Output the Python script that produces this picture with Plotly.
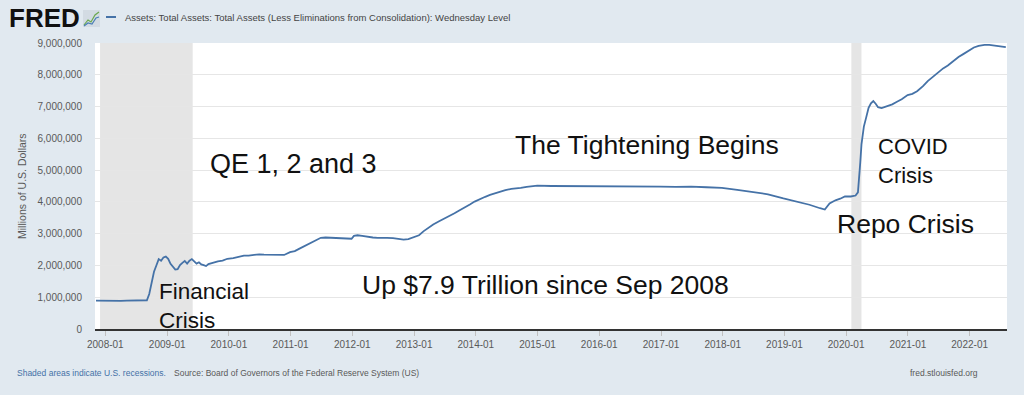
import plotly.graph_objects as go

# ---------------- data (millions of U.S. dollars, Wednesday level) ----------------
dates = [
    "2007-11-07", "2007-12-05", "2008-01-02", "2008-02-06", "2008-03-05", "2008-04-02",
    "2008-05-07", "2008-06-04", "2008-07-02", "2008-08-06", "2008-09-03", "2008-09-17",
    "2008-10-01", "2008-10-15", "2008-10-29", "2008-11-12", "2008-11-26", "2008-12-10",
    "2008-12-24", "2009-01-07", "2009-01-21", "2009-02-04", "2009-02-18", "2009-03-04",
    "2009-03-18", "2009-04-01", "2009-04-15", "2009-04-29", "2009-05-13", "2009-05-27",
    "2009-06-10", "2009-06-24", "2009-07-08", "2009-07-22", "2009-08-05", "2009-08-19",
    "2009-09-02", "2009-09-30", "2009-10-28", "2009-11-25", "2009-12-23", "2010-01-27",
    "2010-02-24", "2010-03-31", "2010-04-28", "2010-05-26", "2010-06-30", "2010-07-28",
    "2010-08-25", "2010-09-29", "2010-10-27", "2010-11-24", "2010-12-29", "2011-01-26",
    "2011-02-23", "2011-03-30", "2011-04-27", "2011-05-25", "2011-06-29", "2011-07-27",
    "2011-08-31", "2011-09-28", "2011-10-26", "2011-11-30", "2011-12-28", "2012-01-11",
    "2012-02-01", "2012-02-29", "2012-03-28", "2012-05-02", "2012-05-30", "2012-06-27",
    "2012-07-25", "2012-08-29", "2012-09-26", "2012-10-31", "2012-11-28", "2012-12-26",
    "2013-01-30", "2013-02-27", "2013-03-27", "2013-04-24", "2013-05-29", "2013-06-26",
    "2013-07-31", "2013-08-28", "2013-09-25", "2013-10-30", "2013-11-27", "2013-12-25",
    "2014-01-29", "2014-02-26", "2014-03-26", "2014-04-30", "2014-05-28", "2014-06-25",
    "2014-07-30", "2014-08-27", "2014-09-24", "2014-10-29", "2014-12-31", "2015-03-25",
    "2015-06-24", "2015-09-30", "2015-12-30", "2016-03-30", "2016-06-29", "2016-09-28",
    "2016-12-28", "2017-03-29", "2017-06-28", "2017-09-27", "2017-12-27", "2018-03-28",
    "2018-06-27", "2018-09-26", "2018-12-26", "2019-03-27", "2019-05-29", "2019-07-31",
    "2019-08-28", "2019-09-25", "2019-10-30", "2019-11-27", "2019-12-25", "2020-01-29",
    "2020-02-26", "2020-03-11", "2020-03-18", "2020-03-25", "2020-04-01", "2020-04-15",
    "2020-04-29", "2020-05-13", "2020-05-27", "2020-06-10", "2020-06-24", "2020-07-08",
    "2020-07-29", "2020-08-26", "2020-09-30", "2020-10-28", "2020-11-25", "2020-12-30",
    "2021-01-27", "2021-02-24", "2021-03-31", "2021-04-28", "2021-05-26", "2021-06-30",
    "2021-07-28", "2021-08-25", "2021-09-29", "2021-10-27", "2021-11-24", "2021-12-29",
    "2022-01-26", "2022-02-23", "2022-03-30", "2022-04-27", "2022-05-25", "2022-06-29",
    "2022-07-27", "2022-08-03",
]
total_assets = [
    895000, 890000, 905000, 888000, 893000, 887000,
    890000, 893000, 895000, 898000, 905000, 1100000,
    1500000, 1800000, 2000000, 2200000, 2150000, 2250000,
    2280000, 2210000, 2050000, 1950000, 1870000, 1880000,
    2010000, 2080000, 2140000, 2060000, 2150000, 2200000,
    2130000, 2060000, 2100000, 2030000, 2010000, 1980000,
    2040000, 2090000, 2130000, 2150000, 2210000, 2230000,
    2260000, 2310000, 2310000, 2330000, 2350000, 2340000,
    2340000, 2330000, 2320000, 2330000, 2420000, 2450000,
    2530000, 2620000, 2700000, 2780000, 2870000, 2880000,
    2870000, 2860000, 2860000, 2850000, 2840000, 2930000,
    2950000, 2930000, 2900000, 2880000, 2870000, 2880000,
    2870000, 2860000, 2840000, 2810000, 2830000, 2880000,
    2950000, 3080000, 3200000, 3290000, 3390000, 3460000,
    3570000, 3640000, 3730000, 3850000, 3920000, 4010000,
    4080000, 4160000, 4220000, 4280000, 4330000, 4370000,
    4410000, 4420000, 4440000, 4470000, 4510000, 4500000,
    4500000, 4490000, 4490000, 4480000, 4490000, 4480000,
    4480000, 4470000, 4480000, 4460000, 4440000, 4380000,
    4310000, 4240000, 4110000, 3990000, 3910000, 3800000,
    3760000, 3950000, 4050000, 4100000, 4170000, 4170000,
    4200000, 4300000, 4670000, 5250000, 5810000, 6370000,
    6660000, 6960000, 7100000, 7170000, 7090000, 6980000,
    6950000, 7000000, 7070000, 7150000, 7230000, 7360000,
    7400000, 7480000, 7640000, 7800000, 7930000, 8100000,
    8200000, 8290000, 8450000, 8560000, 8650000, 8760000,
    8860000, 8910000, 8940000, 8940000, 8920000, 8900000,
    8880000, 8870000,
]
recession_starts = ["2007-12-01", "2020-02-01"]
recession_ends = ["2009-06-01", "2020-04-01"]

series_name = "Assets: Total Assets: Total Assets (Less Eliminations from Consolidation): Wednesday Level"
y_ticks = [0, 1000000, 2000000, 3000000, 4000000, 5000000, 6000000, 7000000, 8000000, 9000000]

# ---------------- layout geometry helpers ----------------
W, H = 1024, 395
ML, MR, MT, MB = 95, 17, 43, 66
PW, PH = W - ML - MR, H - MT - MB


def px_x(px):
    return (px - ML) / PW


def px_y(py):
    return (H - MB - py) / PH


FONT = "Liberation Sans, Arial, sans-serif"
BLUE = "#4572a7"

fig = go.Figure()
fig.add_trace(go.Scatter(
    x=dates, y=total_assets, mode="lines", name=series_name,
    line=dict(color=BLUE, width=1.8), showlegend=False,
))

shapes = []
for s, e in zip(recession_starts, recession_ends):
    shapes.append(dict(type="rect", xref="x", yref="paper", x0=s, x1=e, y0=0, y1=1,
                       fillcolor="#e5e5e5", line=dict(width=0), layer="below"))

# small FRED chart icon
shapes.append(dict(type="rect", xref="paper", yref="paper",
                   x0=px_x(83), x1=px_x(100), y0=px_y(27), y1=px_y(10),
                   fillcolor="#d3dbe3", line=dict(width=0)))
shapes.append(dict(type="path", xref="paper", yref="paper",
                   path=f"M {px_x(84)},{px_y(25)} L {px_x(88)},{px_y(20)} L {px_x(91)},{px_y(22)} L {px_x(95)},{px_y(15)} L {px_x(99)},{px_y(12)}",
                   line=dict(color="#6aa84f", width=1.2)))
shapes.append(dict(type="path", xref="paper", yref="paper",
                   path=f"M {px_x(84)},{px_y(26)} L {px_x(88)},{px_y(23)} L {px_x(92)},{px_y(24)} L {px_x(96)},{px_y(18)} L {px_x(99)},{px_y(17)}",
                   line=dict(color="#4a7fb5", width=1.2)))
# legend line
shapes.append(dict(type="line", xref="paper", yref="paper",
                   x0=px_x(106), x1=px_x(116), y0=px_y(17), y1=px_y(17),
                   line=dict(color=BLUE, width=2)))

annotations = [
    dict(text="<b>FRED</b>", xref="paper", yref="paper", x=px_x(7), y=px_y(18),
         xanchor="left", yanchor="middle", showarrow=False,
         font=dict(family=FONT, size=26, color="#111111")),
    dict(text=series_name, xref="paper", yref="paper", x=px_x(123), y=px_y(17),
         xanchor="left", yanchor="middle", showarrow=False,
         font=dict(family=FONT, size=9.5, color="#444444")),
    dict(text="Millions of U.S. Dollars", xref="paper", yref="paper", x=px_x(22), y=px_y(186),
         xanchor="center", yanchor="middle", textangle=-90, showarrow=False,
         font=dict(family=FONT, size=10.5, color="#595959")),
    dict(text="Shaded areas indicate U.S. recessions.", xref="paper", yref="paper",
         x=px_x(15), y=px_y(373), xanchor="left", yanchor="middle", showarrow=False,
         font=dict(family=FONT, size=8.5, color="#4572a7")),
    dict(text="Source: Board of Governors of the Federal Reserve System (US)", xref="paper", yref="paper",
         x=px_x(172), y=px_y(373), xanchor="left", yanchor="middle", showarrow=False,
         font=dict(family=FONT, size=8.5, color="#595959")),
    dict(text="fred.stlouisfed.org", xref="paper", yref="paper",
         x=px_x(980), y=px_y(373), xanchor="right", yanchor="middle", showarrow=False,
         font=dict(family=FONT, size=8.5, color="#595959")),
    # chart commentary
    dict(text="QE 1, 2 and 3", xref="x", yref="y", x="2009-09-01", y=5180000,
         xanchor="left", yanchor="middle", showarrow=False,
         font=dict(family=FONT, size=27, color="#111111")),
    dict(text="The Tightening Begins", xref="x", yref="y", x="2014-08-07", y=5780000,
         xanchor="left", yanchor="middle", showarrow=False,
         font=dict(family=FONT, size=26.5, color="#111111")),
    dict(text="Financial<br>Crisis", xref="x", yref="y", x="2008-11-03", y=730000,
         xanchor="left", yanchor="middle", align="left", showarrow=False,
         font=dict(family=FONT, size=22.5, color="#111111")),
    dict(text="Up $7.9 Trillion since Sep 2008", xref="x", yref="y", x="2012-02-15", y=1370000,
         xanchor="left", yanchor="middle", showarrow=False,
         font=dict(family=FONT, size=26.5, color="#111111")),
    dict(text="COVID<br>Crisis", xref="x", yref="y", x="2020-06-28", y=5300000,
         xanchor="left", yanchor="middle", align="left", showarrow=False,
         font=dict(family=FONT, size=22, color="#111111")),
    dict(text="Repo Crisis", xref="x", yref="y", x="2019-10-30", y=3320000,
         xanchor="left", yanchor="middle", showarrow=False,
         font=dict(family=FONT, size=26.5, color="#111111")),
]

fig.update_layout(
    width=W, height=H,
    margin=dict(l=ML, r=MR, t=MT, b=MB, autoexpand=False),
    paper_bgcolor="#e1e9f0", plot_bgcolor="#ffffff",
    shapes=shapes, annotations=annotations,
    font=dict(family=FONT, color="#595959"),
)
fig.update_xaxes(
    type="date", range=["2007-11-01", "2022-08-10"],
    tick0="2008-01-01", dtick="M12", tickformat="%Y-%m",
    ticks="outside", ticklen=5, tickcolor="#c0c0c0",
    tickfont=dict(family=FONT, size=10, color="#595959"),
    showgrid=False, showline=True, linecolor="#333333", linewidth=2,
    zeroline=False, fixedrange=True,
)
fig.update_yaxes(
    range=[0, 9000000], tickvals=y_ticks, tickformat=",",
    tickfont=dict(family=FONT, size=10, color="#595959"),
    ticklabelstandoff=12,
    showgrid=True, gridcolor="#e6e6e6", gridwidth=1,
    zeroline=False, showline=False, fixedrange=True,
)

fig.write_html(
    "out.html",
    config={"displayModeBar": False},
    post_script="document.body.style.margin='0';document.body.style.overflow='hidden';"
                "document.body.style.background='#e1e9f0';",
)
